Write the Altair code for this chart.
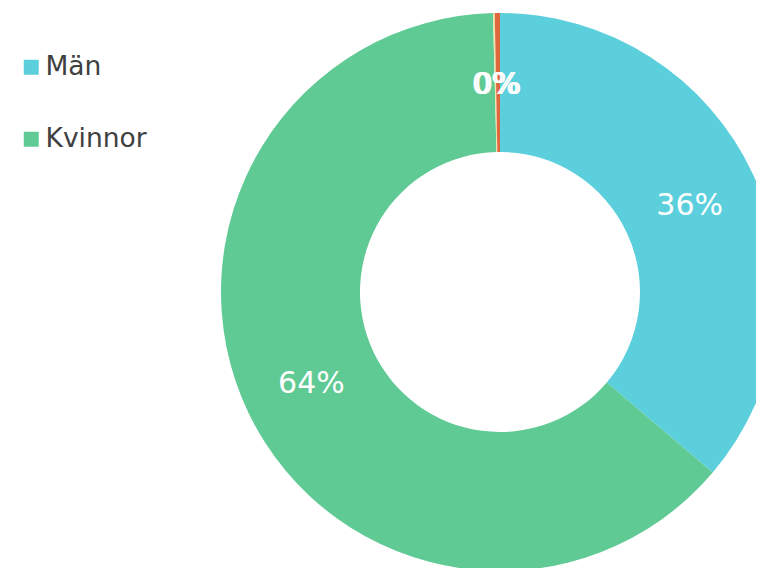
import altair as alt
import pandas as pd

categories = ["Män", "Kvinnor", "Övrigt", "Ej angivet"]
values = [36.2, 63.4, 0.1, 0.3]
labels = ["36%", "64%", "0%", "0%"]
colors = ["#5BCFDC", "#5FCA94", "#EDE3A6", "#E0683E"]

df = pd.DataFrame({"kat": categories, "val": values, "lab": labels, "ord": list(range(len(categories)))})

base = alt.Chart(df).encode(
    theta=alt.Theta("val:Q", stack=True),
    order=alt.Order("ord:Q"),
    x=alt.value(492),
    y=alt.value(284),
)

arcs = base.mark_arc(outerRadius=279, innerRadius=140, stroke=None).encode(
    color=alt.Color(
        "kat:N",
        scale=alt.Scale(domain=categories, range=colors),
        sort=categories,
        legend=alt.Legend(
            values=["Män", "Kvinnor"],
            title=None,
            orient="none",
            legendX=10,
            legendY=46,
            symbolType="square",
            symbolSize=225,
            symbolStrokeWidth=0,
            labelFont="DejaVu Sans",
            labelFontSize=26.5,
            labelColor="#404040",
            rowPadding=45,
            labelOffset=1,
        ),
    )
)

text = base.mark_text(radius=209, font="DejaVu Sans", fontSize=30, color="white", dy=2).encode(
    text="lab:N"
)

chart = (
    (arcs + text)
    .properties(width=748, height=560, autosize=alt.AutoSizeParams(type="none"), padding=0)
    .configure_view(stroke=None)
)

chart.save("out.html", embed_options={"renderer": "svg", "actions": False})
